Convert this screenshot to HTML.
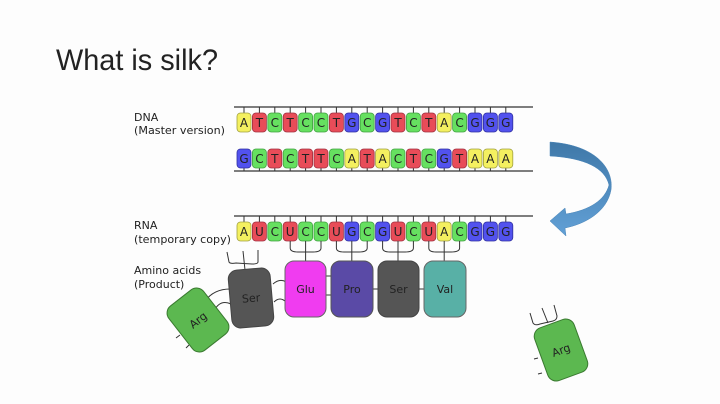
<!DOCTYPE html>
<html><head><meta charset="utf-8"><style>
html,body{margin:0;padding:0;background:#fff;}
svg{display:block;}
.A{fill:#f4f060;stroke:#a0a040}
.T,.U{fill:#e84c58;stroke:#a03040}
.C{fill:#66e060;stroke:#40a040}
.G{fill:#5252ee;stroke:#3030a0}
.b rect{stroke-width:0.8}
.b text{font-size:12px;text-anchor:middle;fill:#222;font-family:'DejaVu Sans',sans-serif}
</style></head><body>
<svg width="720" height="404" viewBox="0 0 720 404" xmlns="http://www.w3.org/2000/svg" font-family="'DejaVu Sans','Liberation Sans',sans-serif">
<rect width="720" height="404" fill="#fdfdfd"/>
<text x="56" y="70" font-family="'Liberation Sans',sans-serif" font-size="30" fill="#222" textLength="162" lengthAdjust="spacingAndGlyphs">What is silk?</text>
<g font-size="11" fill="#222">
<text x="134" y="121">DNA</text>
<text x="134" y="134" textLength="91" lengthAdjust="spacingAndGlyphs">(Master version)</text>
<text x="134" y="229">RNA</text>
<text x="134" y="243" textLength="97" lengthAdjust="spacingAndGlyphs">(temporary copy)</text>
<text x="134" y="274">Amino acids</text>
<text x="134" y="288">(Product)</text>
</g>
<g stroke="#333" stroke-width="1.2">
<line x1="234" y1="107" x2="533" y2="107"/>
<line x1="234" y1="171" x2="533" y2="171"/>
<line x1="234" y1="216" x2="533" y2="216"/>
</g>
<g stroke="#333" stroke-width="1">
<path d="M244,107V113M259.4,107V113M274.8,107V113M290.2,107V113M305.6,107V113M321,107V113M336.4,107V113M351.8,107V113M367.2,107V113M382.6,107V113M398,107V113M413.4,107V113M428.8,107V113M444.2,107V113M459.6,107V113M475,107V113M490.4,107V113M505.8,107V113"/>
<path d="M244,168V171M259.4,168V171M274.8,168V171M290.2,168V171M305.6,168V171M321,168V171M336.4,168V171M351.8,168V171M367.2,168V171M382.6,168V171M398,168V171M413.4,168V171M428.8,168V171M444.2,168V171M459.6,168V171M475,168V171M490.4,168V171M505.8,168V171"/>
<path d="M244,216V222M259.4,216V222M274.8,216V222M290.2,216V222M305.6,216V222M321,216V222M336.4,216V222M351.8,216V222M367.2,216V222M382.6,216V222M398,216V222M413.4,216V222M428.8,216V222M444.2,216V222M459.6,216V222M475,216V222M490.4,216V222M505.8,216V222"/>
</g>
<g class="b">
<rect class="A" x="237" y="113" width="14" height="19" rx="3.5"/><text x="244" y="127">A</text>
<rect class="T" x="252.4" y="113" width="14" height="19" rx="3.5"/><text x="259.4" y="127">T</text>
<rect class="C" x="267.8" y="113" width="14" height="19" rx="3.5"/><text x="274.8" y="127">C</text>
<rect class="T" x="283.2" y="113" width="14" height="19" rx="3.5"/><text x="290.2" y="127">T</text>
<rect class="C" x="298.6" y="113" width="14" height="19" rx="3.5"/><text x="305.6" y="127">C</text>
<rect class="C" x="314" y="113" width="14" height="19" rx="3.5"/><text x="321" y="127">C</text>
<rect class="T" x="329.4" y="113" width="14" height="19" rx="3.5"/><text x="336.4" y="127">T</text>
<rect class="G" x="344.8" y="113" width="14" height="19" rx="3.5"/><text x="351.8" y="127">G</text>
<rect class="C" x="360.2" y="113" width="14" height="19" rx="3.5"/><text x="367.2" y="127">C</text>
<rect class="G" x="375.6" y="113" width="14" height="19" rx="3.5"/><text x="382.6" y="127">G</text>
<rect class="T" x="391" y="113" width="14" height="19" rx="3.5"/><text x="398" y="127">T</text>
<rect class="C" x="406.4" y="113" width="14" height="19" rx="3.5"/><text x="413.4" y="127">C</text>
<rect class="T" x="421.8" y="113" width="14" height="19" rx="3.5"/><text x="428.8" y="127">T</text>
<rect class="A" x="437.2" y="113" width="14" height="19" rx="3.5"/><text x="444.2" y="127">A</text>
<rect class="C" x="452.6" y="113" width="14" height="19" rx="3.5"/><text x="459.6" y="127">C</text>
<rect class="G" x="468" y="113" width="14" height="19" rx="3.5"/><text x="475" y="127">G</text>
<rect class="G" x="483.4" y="113" width="14" height="19" rx="3.5"/><text x="490.4" y="127">G</text>
<rect class="G" x="498.8" y="113" width="14" height="19" rx="3.5"/><text x="505.8" y="127">G</text>
<rect class="G" x="237" y="149" width="14" height="19" rx="3.5"/><text x="244" y="163">G</text>
<rect class="C" x="252.4" y="149" width="14" height="19" rx="3.5"/><text x="259.4" y="163">C</text>
<rect class="T" x="267.8" y="149" width="14" height="19" rx="3.5"/><text x="274.8" y="163">T</text>
<rect class="C" x="283.2" y="149" width="14" height="19" rx="3.5"/><text x="290.2" y="163">C</text>
<rect class="T" x="298.6" y="149" width="14" height="19" rx="3.5"/><text x="305.6" y="163">T</text>
<rect class="T" x="314" y="149" width="14" height="19" rx="3.5"/><text x="321" y="163">T</text>
<rect class="C" x="329.4" y="149" width="14" height="19" rx="3.5"/><text x="336.4" y="163">C</text>
<rect class="A" x="344.8" y="149" width="14" height="19" rx="3.5"/><text x="351.8" y="163">A</text>
<rect class="T" x="360.2" y="149" width="14" height="19" rx="3.5"/><text x="367.2" y="163">T</text>
<rect class="A" x="375.6" y="149" width="14" height="19" rx="3.5"/><text x="382.6" y="163">A</text>
<rect class="C" x="391" y="149" width="14" height="19" rx="3.5"/><text x="398" y="163">C</text>
<rect class="T" x="406.4" y="149" width="14" height="19" rx="3.5"/><text x="413.4" y="163">T</text>
<rect class="C" x="421.8" y="149" width="14" height="19" rx="3.5"/><text x="428.8" y="163">C</text>
<rect class="G" x="437.2" y="149" width="14" height="19" rx="3.5"/><text x="444.2" y="163">G</text>
<rect class="T" x="452.6" y="149" width="14" height="19" rx="3.5"/><text x="459.6" y="163">T</text>
<rect class="A" x="468" y="149" width="14" height="19" rx="3.5"/><text x="475" y="163">A</text>
<rect class="A" x="483.4" y="149" width="14" height="19" rx="3.5"/><text x="490.4" y="163">A</text>
<rect class="A" x="498.8" y="149" width="14" height="19" rx="3.5"/><text x="505.8" y="163">A</text>
<rect class="A" x="237" y="222" width="14" height="19" rx="3.5"/><text x="244" y="236">A</text>
<rect class="U" x="252.4" y="222" width="14" height="19" rx="3.5"/><text x="259.4" y="236">U</text>
<rect class="C" x="267.8" y="222" width="14" height="19" rx="3.5"/><text x="274.8" y="236">C</text>
<rect class="U" x="283.2" y="222" width="14" height="19" rx="3.5"/><text x="290.2" y="236">U</text>
<rect class="C" x="298.6" y="222" width="14" height="19" rx="3.5"/><text x="305.6" y="236">C</text>
<rect class="C" x="314" y="222" width="14" height="19" rx="3.5"/><text x="321" y="236">C</text>
<rect class="U" x="329.4" y="222" width="14" height="19" rx="3.5"/><text x="336.4" y="236">U</text>
<rect class="G" x="344.8" y="222" width="14" height="19" rx="3.5"/><text x="351.8" y="236">G</text>
<rect class="C" x="360.2" y="222" width="14" height="19" rx="3.5"/><text x="367.2" y="236">C</text>
<rect class="G" x="375.6" y="222" width="14" height="19" rx="3.5"/><text x="382.6" y="236">G</text>
<rect class="U" x="391" y="222" width="14" height="19" rx="3.5"/><text x="398" y="236">U</text>
<rect class="C" x="406.4" y="222" width="14" height="19" rx="3.5"/><text x="413.4" y="236">C</text>
<rect class="U" x="421.8" y="222" width="14" height="19" rx="3.5"/><text x="428.8" y="236">U</text>
<rect class="A" x="437.2" y="222" width="14" height="19" rx="3.5"/><text x="444.2" y="236">A</text>
<rect class="C" x="452.6" y="222" width="14" height="19" rx="3.5"/><text x="459.6" y="236">C</text>
<rect class="G" x="468" y="222" width="14" height="19" rx="3.5"/><text x="475" y="236">G</text>
<rect class="G" x="483.4" y="222" width="14" height="19" rx="3.5"/><text x="490.4" y="236">G</text>
<rect class="G" x="498.8" y="222" width="14" height="19" rx="3.5"/><text x="505.8" y="236">G</text>
</g>
<g fill="none" stroke="#333" stroke-width="1">
<path d="M290.2,241 V248 Q290.2,252 298,252 H313 Q321,252 321,248 V241 M305.6,241 V261"/>
<path d="M336.4,241 V248 Q336.4,252 344,252 H359 Q367.2,252 367.2,248 V241 M351.8,241 V261"/>
<path d="M382.6,241 V248 Q382.6,252 390,252 H405 Q413.4,252 413.4,248 V241 M398,241 V261"/>
<path d="M428.8,241 V248 Q428.8,252 436,252 H451 Q459.6,252 459.6,248 V241 M444.2,241 V261"/>
<path d="M227,252 L229,262 Q230,264 236,263 L252,264 Q258,264 258,262 L258,250 M243,251 L245,270"/>
<path d="M326,276 H331 M326,295 H331 M373,289 H378 M419,289 H424"/>
<path d="M273,284 Q280,278 286,282 M274,302 Q280,296 286,302"/>
<path d="M205,301 Q214,289 230,289 M214,311 Q220,299 231,304"/>
<path d="M180,335 L176,338 M189,345 L186,348"/>
<path d="M530,313 L533,323 Q535,326 540,324 L553,321 Q557,320 557,316 L554,305 M542,308 L548,323"/>
<path d="M538,358 L534,359 M542,373 L538,374"/>
</g>
<g font-size="11" text-anchor="middle" fill="#222">
<rect x="285" y="261" width="41" height="56" rx="9" fill="#f03cf0" stroke="#666"/>
<text x="305.5" y="293">Glu</text>
<rect x="331" y="261" width="42" height="56" rx="9" fill="#5a4aa6" stroke="#555"/>
<text x="352" y="293">Pro</text>
<rect x="378" y="261" width="41" height="56" rx="9" fill="#555" stroke="#444"/>
<text x="398.5" y="293">Ser</text>
<rect x="424" y="261" width="42" height="56" rx="9" fill="#58b0a6" stroke="#666"/>
<text x="445" y="293">Val</text>
<g transform="translate(251,298) rotate(-5)">
<rect x="-21" y="-29" width="42" height="58" rx="9" fill="#555" stroke="#444"/>
<text x="0" y="4">Ser</text>
</g>
<g transform="translate(198,320) rotate(-38)">
<rect x="-22" y="-28" width="44" height="56" rx="9" fill="#5cb850" stroke="#3a7a30"/>
<text x="0" y="4">Arg</text>
</g>
<g transform="translate(561,350) rotate(-20)">
<rect x="-21" y="-28" width="42" height="56" rx="9" fill="#5cb850" stroke="#3a7a30"/>
<text x="0" y="4">Arg</text>
</g>
</g>
<defs><linearGradient id="ag" x1="0" y1="0" x2="0" y2="1"><stop offset="0" stop-color="#3f78a8"/><stop offset="1" stop-color="#62a0d6"/></linearGradient></defs>
<path d="M550,142 C595,145 614,168 611,190 C607,212 585,224 565,228 L566,236 L550,221 L565,208 L566,214 C590,210 605,200 609,185 C605,168 585,158 550,156 Z" fill="url(#ag)" stroke="#4a85b8" stroke-width="0.5"/>
</svg>
</body></html>
